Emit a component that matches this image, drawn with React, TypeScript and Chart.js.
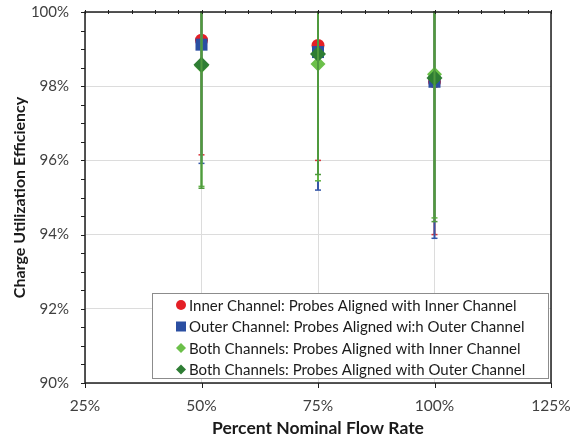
import React, { useEffect, useRef } from "react";
import { Chart, registerables } from "chart.js";

Chart.register(...registerables);

// Flow rate categories (percent nominal)
const flowRates = [50, 75, 100];

// Charge utilization efficiency (%) and lower error-bar ends (%)
const innerAlignedInner = [99.24, 99.1, 98.12];
const innerAlignedInnerLow = [96.15, 96.0, 94.0];
const outerAlignedOuter = [99.12, 98.92, 98.12];
const outerAlignedOuterLow = [95.92, 95.2, 93.9];
const bothAlignedInner = [98.55, 98.6, 98.32];
const bothAlignedInnerLow = [95.3, 95.45, 94.45];
const bothAlignedOuter = [98.58, 98.87, 98.22];
const bothAlignedOuterLow = [95.25, 95.62, 94.35];

const seriesLabels = [
  "Inner Channel: Probes Aligned with Inner Channel",
  "Outer Channel: Probes Aligned wi:h Outer Channel",
  "Both Channels: Probes Aligned with Inner Channel",
  "Both Channels: Probes Aligned with Outer Channel",
];

const xTicks = [25, 50, 75, 100, 125];
const yTicks = [90, 92, 94, 96, 98, 100];

const FONT = "Lato, 'Open Sans', sans-serif";

export default function App() {
  const ref = useRef<HTMLCanvasElement | null>(null);

  useEffect(() => {
    const canvas = ref.current;
    if (!canvas) return;

    const values = [innerAlignedInner, outerAlignedOuter, bothAlignedInner, bothAlignedOuter];
    const lows = [innerAlignedInnerLow, outerAlignedOuterLow, bothAlignedInnerLow, bothAlignedOuterLow];
    const colors = ["#e41f26", "#2b4fa2", "#6cc04a", "#2e7d34"];
    const errColors = ["#d8343a", "#3556a8", "#62b444", "#4f9a3e"];
    const styles = ["circle", "rect", "rectRot", "rectRot"];
    const radii = [6.5, 8.5, 7.5, 8];

    const datasets = values.map((vals, i) => ({
      label: seriesLabels[i],
      data: flowRates.map((x, j) => ({ x, y: vals[j] })),
      backgroundColor: colors[i],
      borderColor: colors[i],
      borderWidth: 0,
      pointStyle: styles[i] as any,
      pointRadius: radii[i],
      pointHoverRadius: radii[i],
      showLine: false,
      order: values.length - 1 - i,
    }));

    const errorBars = {
      id: "errorBars",
      afterDatasetDraw(chart: any, args: any) {
        const i = args.index;
        const { ctx, chartArea, scales } = chart;
        ctx.save();
        ctx.beginPath();
        ctx.rect(chartArea.left, chartArea.top - 1, chartArea.right - chartArea.left, chartArea.bottom - chartArea.top + 1);
        ctx.clip();
        ctx.strokeStyle = errColors[i];
        flowRates.forEach((x, j) => {
          const v = values[i][j];
          const lo = lows[i][j];
          const hi = 2 * v - lo;
          const px = scales.x.getPixelForValue(x);
          const pLo = scales.y.getPixelForValue(lo);
          const pHi = scales.y.getPixelForValue(hi);
          ctx.lineWidth = 2;
          ctx.beginPath();
          ctx.moveTo(px, pLo);
          ctx.lineTo(px, pHi);
          ctx.stroke();
          ctx.lineWidth = 1.5;
          ctx.beginPath();
          ctx.moveTo(px - 3, pLo);
          ctx.lineTo(px + 3, pLo);
          ctx.stroke();
        });
        ctx.restore();
      },
    };

    const frame = {
      id: "frame",
      afterDatasetsDraw(chart: any) {
        const { ctx, chartArea, scales } = chart;
        const { left, right, top, bottom } = chartArea;
        ctx.save();
        ctx.strokeStyle = "#1e1e1e";
        ctx.lineWidth = 1.5;
        ctx.strokeRect(left, top, right - left, bottom - top);
        ctx.lineWidth = 1;
        for (let v = 90; v <= 100.001; v += 0.5) {
          const py = Math.round(scales.y.getPixelForValue(v)) + 0.5;
          ctx.beginPath();
          ctx.moveTo(left - 4, py);
          ctx.lineTo(left, py);
          ctx.stroke();
        }
        for (let v = 25; v <= 125.001; v += 5) {
          const px = Math.round(scales.x.getPixelForValue(v)) + 0.5;
          ctx.beginPath();
          ctx.moveTo(px, top - 2);
          ctx.lineTo(px, top + 2);
          ctx.stroke();
        }
        xTicks.forEach((v) => {
          const px = Math.round(scales.x.getPixelForValue(v)) + 0.5;
          ctx.beginPath();
          ctx.moveTo(px, bottom);
          ctx.lineTo(px, bottom + 5);
          ctx.stroke();
        });
        ctx.restore();
      },
    };

    const legendBox = {
      id: "legendBox",
      afterDraw(chart: any) {
        const { ctx } = chart;
        const bx = 152, by = 293, bw = 396, bh = 85;
        ctx.save();
        ctx.fillStyle = "#ffffff";
        ctx.fillRect(bx, by, bw, bh);
        ctx.strokeStyle = "#8c8c8c";
        ctx.lineWidth = 1;
        ctx.strokeRect(bx + 0.5, by + 0.5, bw, bh);
        const rows = [305, 326.5, 348, 369.5];
        const mx = 181;
        rows.forEach((ry, i) => {
          ctx.fillStyle = colors[i];
          ctx.beginPath();
          if (i === 0) {
            ctx.arc(mx, ry, 5, 0, Math.PI * 2);
          } else if (i === 1) {
            ctx.rect(mx - 5, ry - 5, 10, 10);
          } else {
            ctx.moveTo(mx, ry - 5);
            ctx.lineTo(mx + 5, ry);
            ctx.lineTo(mx, ry + 5);
            ctx.lineTo(mx - 5, ry);
            ctx.closePath();
          }
          ctx.fill();
          ctx.fillStyle = "#1a1a1a";
          ctx.font = `15px ${FONT}`;
          ctx.textBaseline = "middle";
          ctx.textAlign = "left";
          ctx.fillText(seriesLabels[i], 189, ry + 1);
        });
        ctx.restore();
      },
    };

    const chart = new Chart(canvas, {
      type: "scatter",
      data: { datasets: datasets as any },
      plugins: [errorBars, frame, legendBox],
      options: {
        responsive: false,
        animation: false,
        events: [],
        layout: { padding: { left: 0, top: 12, right: 27, bottom: 0 } },
        plugins: {
          legend: { display: false },
          tooltip: { enabled: false },
        },
        scales: {
          x: {
            type: "linear",
            min: 25,
            max: 125,
            afterFit: (s: any) => {
              s.height = 62;
              s.paddingLeft = 0;
              s.paddingRight = 0;
              s.paddingTop = 0;
              s.paddingBottom = 0;
            },
            afterBuildTicks: (s: any) => {
              s.ticks = xTicks.map((v) => ({ value: v }));
            },
            grid: { color: "#dcdcdc", lineWidth: 1, drawTicks: false },
            border: { display: false },
            ticks: {
              padding: 14,
              color: "#404040",
              font: { family: FONT, size: 15.5 },
              callback: (v: any) => `${v}%`,
            },
            title: {
              display: true,
              text: "Percent Nominal Flow Rate",
              color: "#1a1a1a",
              font: { family: FONT, size: 17.5, weight: "bold" },
              padding: { top: 0, bottom: 6 },
            },
          },
          y: {
            type: "linear",
            min: 90,
            max: 100,
            afterFit: (s: any) => {
              s.width = 85;
              s.paddingLeft = 0;
              s.paddingRight = 0;
              s.paddingTop = 0;
              s.paddingBottom = 0;
            },
            afterBuildTicks: (s: any) => {
              s.ticks = yTicks.map((v) => ({ value: v }));
            },
            grid: { color: "#dcdcdc", lineWidth: 1, drawTicks: false },
            border: { display: false },
            ticks: {
              padding: 16,
              color: "#404040",
              font: { family: FONT, size: 15 },
              callback: (v: any) => `${v}%`,
            },
            title: {
              display: true,
              text: "Charge Utilization Efficiency",
              color: "#1a1a1a",
              font: { family: FONT, size: 16, weight: "bold" },
              padding: { top: 10, bottom: 0 },
            },
          },
        },
      },
    });

    return () => chart.destroy();
  }, []);

  return (
    <div style={{ position: "fixed", left: 0, top: 0, width: 578, height: 445, background: "#fff" }}>
      <canvas ref={ref} width={578} height={445} style={{ width: 578, height: 445, display: "block" }} />
    </div>
  );
}
